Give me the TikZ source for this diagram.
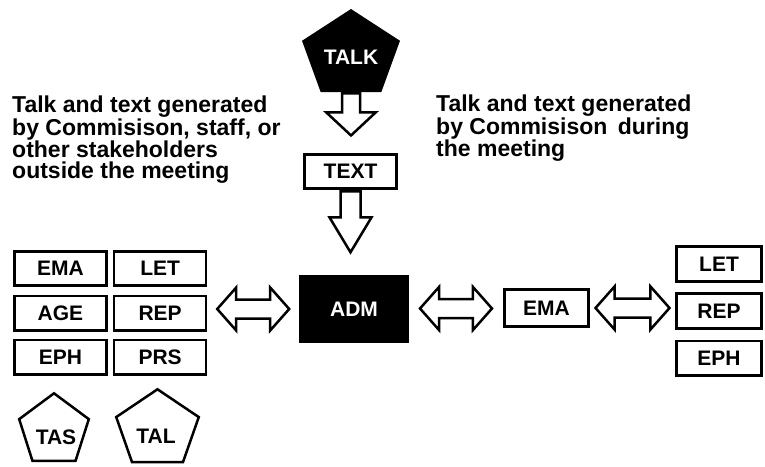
\documentclass[tikz,border=0pt]{standalone}
\usepackage{fontspec}
\setmainfont{Liberation Sans}
\usetikzlibrary{positioning,calc,shapes.arrows}

\newcommand{\pentshape}[4]{%
  \path[#4] ($(#1)+(-90:#2 and #3)$) -- ($(#1)+(-18:#2 and #3)$) -- ($(#1)+(54:#2 and #3)$)
    -- ($(#1)+(126:#2 and #3)$) -- ($(#1)+(198:#2 and #3)$) -- cycle;}

\begin{document}
\begin{tikzpicture}[x=1pt, y=-1pt,
  doc/.style={draw, line width=2.6pt, minimum width=92pt, minimum height=34.5pt, inner sep=0pt, font=\fontsize{21}{21}\selectfont\bfseries},
  docdark/.style={doc, fill=black, text=white, minimum width=107.4pt, minimum height=65.4pt},
  penlab/.style={inner sep=0pt, font=\fontsize{21}{21}\selectfont\bfseries},
  note/.style={align=left, inner sep=0pt, anchor=north west, font=\fontsize{23}{21}\selectfont\bfseries},
  flow/.style={single arrow, draw, fill=white, line width=2.5pt, inner xsep=0pt, rotate=-90, anchor=tail},
  link/.style={double arrow, draw, fill=white, line width=2.5pt, inner xsep=0pt, inner ysep=8.25pt, double arrow head extend=12pt, double arrow tip angle=97, minimum height=72pt}
]
\path[use as bounding box, fill=white] (0,0) rectangle (765,466);

\coordinate (talkc) at (351,55);
\coordinate (tasc) at (54,430.7);
\coordinate (talc) at (157.5,429.5);
\pentshape{talkc}{51.5}{46}{fill=black}
\pentshape{tasc}{36.6}{37.4}{draw, line width=2.5pt}
\pentshape{talc}{43.4}{40.2}{draw, line width=2.5pt}
\node[penlab, text=white] (talk) at (351,57) {TALK};
\node[penlab] (tas) at (56,437) {TAS};
\node[penlab] (tal) at (156,436) {TAL};
\coordinate (talkbase) at ($(talkc)+(0,37.2)$);

\node[doc] (text) at (350.5,171.5) {TEXT};
\node[docdark] (adm) at (354,309) {ADM};
\node[doc, minimum width=84.4pt, minimum height=37.4pt] (ema) at (546.5,308) {EMA};

\node[doc] (ema1) at (60.5,268.5) {EMA};
\node[doc, right=5pt of ema1] (let1) {LET};
\node[doc, below=7.5pt of ema1] (age) {AGE};
\node[doc, right=5pt of age] (lrep) {REP};
\node[doc, below=7pt of age] (eph1) {EPH};
\node[doc, right=5pt of eph1] (prs) {PRS};

\node[doc, minimum width=85.4pt, minimum height=35.4pt] (rlet) at (719,264) {LET};
\node[doc, minimum width=85.4pt, minimum height=35.4pt, below=9pt of rlet] (rrep) {REP};
\node[doc, minimum width=85.4pt, minimum height=34.4pt, below=9.5pt of rrep] (reph) {EPH};

\node[flow, inner ysep=7.75pt, single arrow head extend=15.75pt, single arrow tip angle=94, minimum height=42pt] (down1) at (talkbase) {};
\node[flow, inner ysep=8.75pt, single arrow head extend=11pt, single arrow tip angle=62, minimum height=61pt] (down2) at (text.south) {};

\node[link] (leftlink) at ($(lrep.east |- adm)!0.5!(adm.west)$) {};
\node[link] (midlink) at ($(adm.east)!0.5!(ema.west)$) {};
\node[link, minimum height=74pt] (rightlink) at ($(ema.east)!0.5!(rrep.west |- ema)$) {};

\node[note] (outside) at (12,96) {Talk and text generated\\by Commisison, staff, or\\other stakeholders\\outside the meeting};
\node[note] (during) at (436,95) {Talk and text generated\\by Commisison\hspace{4pt} during\\the meeting};
\end{tikzpicture}
\end{document}
